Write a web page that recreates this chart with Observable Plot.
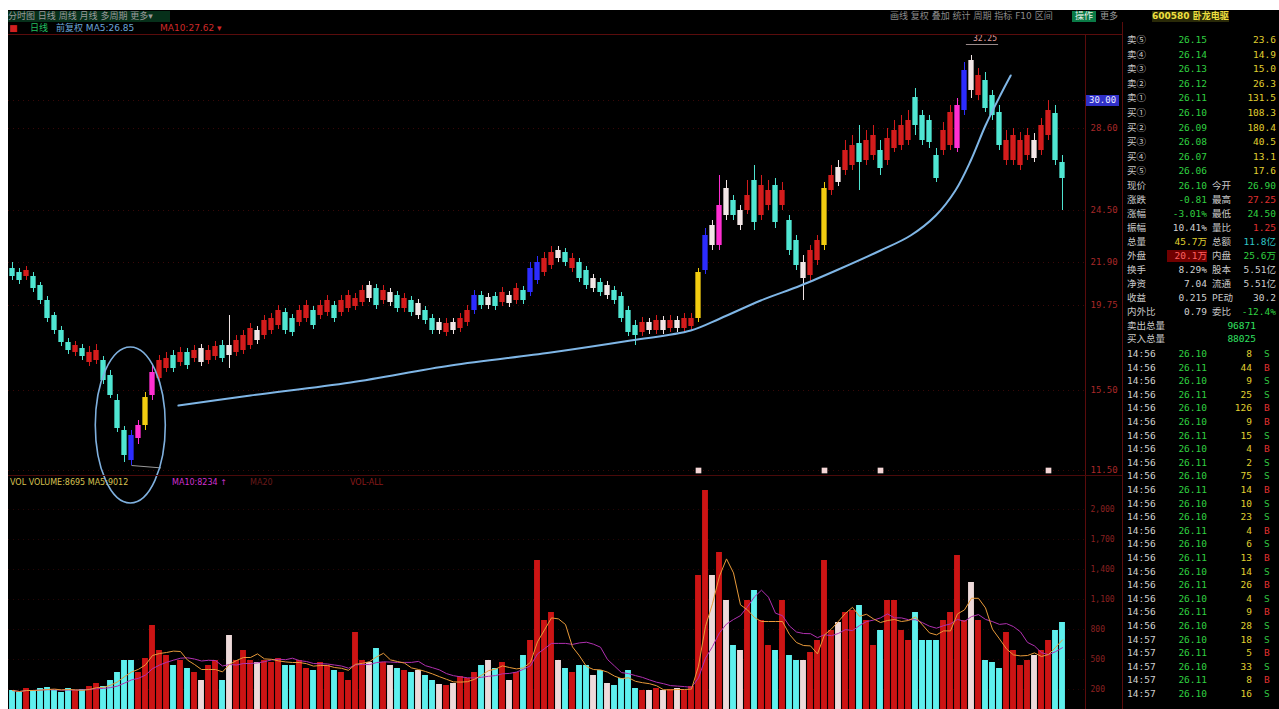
<!DOCTYPE html>
<html><head><meta charset="utf-8">
<script src="https://cdn.jsdelivr.net/npm/d3@7"></script>
<script src="https://cdn.jsdelivr.net/npm/@observablehq/plot@0.6"></script>
<style>
html,body{margin:0;padding:0;background:#fff;width:1279px;height:709px;overflow:hidden;position:relative}
#scr{position:absolute;left:8px;top:10px;width:1271px;height:699px;background:#000}
.t{position:absolute;font:9px "DejaVu Sans","Noto Sans CJK SC";white-space:nowrap;line-height:11px}
.p{position:absolute;font:9.5px "DejaVu Sans Mono","Noto Sans CJK SC";white-space:nowrap;line-height:12px}
.ln{position:absolute;background:#5a0c0c}
#price{position:absolute;left:8px;top:35px}
#vol{position:absolute;left:8px;top:488px}
</style></head>
<body>
<div id="scr"></div>
<div id="price"></div>
<div id="vol"></div>
<div id="deco"></div>
<script>
// ---------------- data ----------------
const kType = [
 "g","g","r","g","g","g","g","g","g","r",
 "g","r","r","g","g","g","g","b","m","y",
 "m","r","r","g","r","g","r","w","r","r",
 "g","w","r","r","r","w","r","r","r","g",
 "g","r","r","g","r","r","g","r","r","r",
 "r","w","g","r","w","g","r","g","w","g",
 "g","w","r","w","r","r","b","g","w","g",
 "r","w","r","g","b","b","r","r","w","g",
 "r","g","g","w","g","w","g","g","g","g",
 "r","w","r","w","r","w","r","r","y","b",
 "w","m","w","g","w","r","g","r","r","g",
 "r","g","g","w","r","r","y","r","w","r",
 "r","g","r","r","g","r","r","r","r","g",
 "g","g","g","r","r","m","b","w","r","g",
 "g","g","r","r","r","r","w","r","r","g",
 "g"];
const kOpen = [
 21.6,21.4,21.2,21.2,20.75,20.0,19.25,18.5,17.9,17.4,
 17.6,16.9,17.0,17.0,16.25,15.0,13.5,13.25,13.1,13.75,
 15.25,16.1,16.6,17.25,16.9,17.4,17.1,17.6,17.0,17.2,
 17.75,17.75,17.4,17.5,17.75,18.5,18.25,18.5,18.75,19.4,
 19.1,18.9,19.1,19.5,19.25,19.4,19.75,19.4,19.6,19.7,
 19.9,20.75,20.6,20.0,20.4,20.25,19.6,20.0,19.85,19.5,
 19.1,18.9,18.4,18.9,18.6,18.9,19.5,20.25,20.15,20.2,
 19.9,20.25,20.0,20.5,20.4,21.0,21.4,21.75,22.5,22.4,
 21.6,21.9,21.5,21.1,20.9,20.75,20.5,20.2,19.5,18.75,
 18.4,18.9,18.5,19.0,18.6,19.0,18.6,18.7,19.1,21.5,
 23.75,22.75,25.6,25.0,24.5,24.5,26.0,24.25,24.75,25.75,
 24.75,24.0,23.0,21.9,21.25,22.0,22.75,25.5,26.65,26.5,
 26.75,27.85,27.0,27.25,27.5,27.0,27.6,27.75,28.0,30.15,
 29.25,29.0,27.25,27.5,27.75,27.6,29.5,32.0,30.25,31.0,
 30.25,29.4,27.0,27.0,26.75,27.25,28.0,27.5,28.25,29.35,
 26.9];
const kClose = [
 21.2,21.0,21.5,20.6,20.0,19.1,18.5,17.9,17.5,17.75,
 17.2,17.4,17.5,16.0,15.25,13.6,12.25,12.0,13.75,15.15,
 16.4,17.0,17.1,16.6,17.4,16.75,17.5,16.9,17.5,17.7,
 17.1,17.25,18.0,18.25,18.6,18.0,19.0,19.1,19.5,18.5,
 18.4,19.5,19.75,18.75,19.75,20.0,19.1,20.0,20.25,20.1,
 20.5,20.1,19.75,20.5,19.9,19.6,20.1,19.4,19.25,19.0,
 18.5,18.5,18.85,18.5,19.1,19.5,20.25,19.75,19.75,19.7,
 20.4,19.85,20.6,20.0,21.6,21.9,22.1,22.4,22.1,21.9,
 22.1,21.1,20.75,20.6,20.4,20.25,20.0,19.1,18.4,18.25,
 18.9,18.5,19.0,18.5,19.0,18.6,19.1,19.1,21.4,23.25,
 22.75,24.75,24.25,24.25,23.75,25.25,23.9,25.75,25.5,23.9,
 25.5,22.5,21.75,21.1,22.5,23.0,25.6,26.25,25.9,27.5,
 27.75,26.9,28.0,28.25,26.6,28.1,28.5,28.75,29.0,28.75,
 28.0,27.9,26.1,28.5,29.4,29.75,31.5,30.5,31.25,29.6,
 29.25,27.75,28.0,28.25,28.0,28.25,27.1,28.75,29.5,27.0,
 26.1];
const kHigh = [
 21.9,21.6,21.7,21.4,20.9,20.2,19.4,18.7,18.1,17.95,
 17.8,17.7,17.8,17.2,16.5,15.3,13.7,13.5,14.0,15.4,
 16.75,17.25,17.4,17.5,17.65,17.6,17.75,17.8,17.75,17.95,
 18.0,19.25,18.25,18.5,18.85,18.7,19.25,19.35,19.75,19.6,
 19.3,19.75,20.0,19.7,20.0,20.25,19.95,20.25,20.5,20.35,
 20.75,20.95,20.8,20.75,20.6,20.45,20.35,20.2,20.05,19.7,
 19.3,19.1,19.1,19.1,19.35,19.75,20.5,20.45,20.35,20.4,
 20.65,20.45,20.85,20.7,21.9,22.2,22.4,22.7,22.7,22.6,
 22.35,22.1,21.7,21.3,21.1,20.95,20.7,20.4,19.7,19.0,
 19.15,19.1,19.25,19.2,19.25,19.2,19.35,19.35,21.6,23.6,
 24.0,26.25,26.0,25.25,24.75,26.0,26.75,26.25,26.0,26.1,
 25.9,24.25,23.25,22.25,22.75,23.25,25.9,26.75,27.0,28.0,
 28.25,28.75,28.5,28.75,28.0,28.6,29.0,29.25,29.5,30.6,
 29.5,29.25,27.6,28.9,29.75,30.1,31.9,32.25,31.6,31.4,
 30.5,29.75,28.5,28.6,28.4,28.6,28.35,29.1,30.0,29.75,
 27.25];
const kLow = [
 21.0,20.8,21.0,20.4,19.8,18.9,18.3,17.7,17.3,17.2,
 17.0,16.7,16.8,15.8,15.1,13.4,11.9,11.75,12.8,13.5,
 15.0,15.9,16.4,16.4,16.7,16.55,16.9,16.7,16.8,17.0,
 16.9,16.6,17.2,17.3,17.55,17.8,18.05,18.3,18.55,18.3,
 18.2,18.7,18.9,18.55,19.05,19.2,18.9,19.2,19.4,19.5,
 19.7,19.9,19.55,19.8,19.7,19.4,19.4,19.2,19.05,18.8,
 18.3,18.3,18.2,18.3,18.4,18.7,19.3,19.55,19.55,19.5,
 19.7,19.65,19.8,19.8,20.2,20.8,21.2,21.55,21.9,21.7,
 21.4,20.9,20.55,20.4,20.2,20.05,19.8,18.9,18.2,17.75,
 18.2,18.3,18.3,18.3,18.4,18.4,18.4,18.5,18.9,21.3,
 22.5,22.5,24.0,24.0,23.5,24.3,23.5,24.0,24.5,23.6,
 24.5,22.25,21.5,20.0,20.9,21.75,22.5,25.25,25.7,26.25,
 26.5,25.5,26.75,27.0,26.25,26.75,27.4,27.5,27.75,28.25,
 27.75,27.6,25.9,27.25,27.5,27.4,29.25,30.1,30.0,29.4,
 29.0,27.5,26.75,26.75,26.5,27.0,26.9,27.25,28.0,26.75,
 24.5];
const volume = [
 190,170,210,190,210,220,190,170,210,190,
 200,230,260,230,290,370,490,490,370,510,
 840,590,540,440,490,410,370,290,440,490,
 290,740,490,590,490,470,490,470,510,440,
 440,490,410,390,470,440,390,370,290,770,
 490,470,610,470,440,410,390,370,390,340,
 290,250,240,260,330,310,370,440,490,410,
 470,290,370,540,690,1490,890,970,490,410,
 370,440,440,340,390,260,240,310,390,210,
 190,190,210,190,200,210,190,230,1340,2190,
 1340,1570,1090,640,590,1090,1190,890,640,590,
 1090,540,490,490,570,690,1490,790,870,970,
 990,1040,890,640,790,1090,1090,790,690,970,
 690,690,690,890,970,1540,890,1270,890,490,
 470,410,770,590,440,490,540,590,690,790,
 870];
// hand-drawn blue support curve (bar index, price)
const curveIdx   = [23.7,34,48.3,62.6,76.9,88.3,96.9,101.1,106.9,112.6,118.3,124,128.3,131.9,134.7,136.9,139,141.1,142.6];
const curvePrice = [14.75,15.25,15.9,16.75,17.4,18.0,18.5,19.1,20.0,20.75,21.6,22.5,23.25,24.25,25.5,27.0,28.75,30.25,31.25];
// circled bottom (centre index/price, half-width in bars, half-height in price)
const ovalCentre = [16.9, 13.75];
const ovalHalf   = [5.0, 3.9];
// signal markers under candles
const signalIdx = [98, 116, 124, 148];
const priceTicks = [11.5, 15.5, 19.75, 21.9, 24.5, 28.6, 30.0];
const volTicks = [200, 500, 800, 1100, 1400, 1700, 2000];

// ---------------- build ----------------
const colorOf = {r:"#d41c1c", g:"#4fe6d2", w:"#f2e6e6", y:"#f2cc10", b:"#2c2cff", m:"#ff2fd2"};
const bars = kType.map((t,i)=>({i, t, open:kOpen[i], close:kClose[i], high:kHigh[i], low:kLow[i], vol:volume[i],
  col: colorOf[t],
  vcol: t==="w" ? "#eedada" : (kClose[i] >= kOpen[i] ? "#cc1414" : "#5ef0ee")}));
const curve = curveIdx.map((x,k)=>({x, y:curvePrice[k]}));
const xDom = [-0.571, 153.286];
const hiBar = bars[137], loBar = bars[17];

const price = Plot.plot({
  width: 1112, height: 440, marginLeft: 0, marginRight: 35, marginTop: 0, marginBottom: 0,
  style: {background: "transparent", color: "#a82828", fontSize: "9px", fontFamily: "DejaVu Sans Mono", overflow: "visible"},
  x: {domain: xDom, axis: null},
  y: {domain: [11.25, 33.25], axis: "right", ticks: priceTicks, tickSize: 0, tickPadding: 5, tickFormat: d3.format(".2f"), label: null},
  color: {type: "identity"},
  marks: [
    Plot.ruleY(priceTicks, {stroke: "#3a0808", strokeDasharray: "1,4"}),
    Plot.ruleX(bars, {x: "i", y1: "low", y2: "high", stroke: "col", strokeWidth: 1}),
    Plot.rect(bars, {x1: d=>d.i-0.38, x2: d=>d.i+0.38, y1: "open", y2: d=> Math.abs(d.close-d.open)<0.1 ? d.open+0.1 : d.close, fill: "col"}),
    Plot.line(curve, {x: "x", y: "y", stroke: "#7fb6e6", strokeWidth: 2, curve: "catmull-rom"}),
    Plot.dot(signalIdx, {x: d=>d, y: 11.5, symbol: "square", r: 3.2, fill: "#f4d6d6"}),
    Plot.link([hiBar], {x1: d=>d.i-0.8, x2: d=>d.i+3.8, y1: d=>d.high+0.55, y2: d=>d.high+0.55, stroke: "#9a8a8a", strokeWidth: 1}),
    Plot.text([hiBar], {x: d=>d.i+0.2, y: d=>d.high+0.85, text: d=>d.high.toFixed(2), textAnchor: "start", fill: "#e0a0a0", fontSize: 8}),
    Plot.link([loBar], {x1: "i", x2: d=>d.i+4.2, y1: "low", y2: d=>d.low-0.12, stroke: "#9a9a9a", strokeWidth: 1}),
  ]
});
document.getElementById("price").append(price);
// circled bottom drawn through the plot's own scales
{
  const sx = price.scale("x"), sy = price.scale("y");
  const cx = sx.apply(ovalCentre[0]), cy = sy.apply(ovalCentre[1]);
  const rx = Math.abs(sx.apply(ovalCentre[0]+ovalHalf[0]) - cx);
  const ry = Math.abs(sy.apply(ovalCentre[1]+ovalHalf[1]) - cy);
  d3.select(price).append("ellipse").attr("cx", cx).attr("cy", cy).attr("rx", rx).attr("ry", ry)
    .attr("fill", "none").attr("stroke", "#7fb0de").attr("stroke-width", 1.6);
}

const vol = Plot.plot({
  width: 1112, height: 221, marginLeft: 0, marginRight: 35, marginTop: 0, marginBottom: 0,
  style: {background: "transparent", color: "#8a2020", fontSize: "8px", fontFamily: "DejaVu Sans Mono", overflow: "visible"},
  x: {domain: xDom, axis: null},
  y: {domain: [0, 2210], axis: "right", ticks: volTicks, tickSize: 0, tickPadding: 5, label: null},
  color: {type: "identity"},
  marks: [
    Plot.ruleY(volTicks, {stroke: "#2a0606", strokeDasharray: "1,4"}),
    Plot.rectY(bars, {x1: d=>d.i-0.42, x2: d=>d.i+0.42, y: "vol", fill: "vcol"}),
    Plot.lineY(bars, Plot.windowY({k: 10, anchor: "end", reduce: "mean"}, {x: "i", y: "vol", stroke: "#b030b0", strokeWidth: 1})),
    Plot.lineY(bars, Plot.windowY({k: 5, anchor: "end", reduce: "mean"}, {x: "i", y: "vol", stroke: "#e89a3a", strokeWidth: 1}))
  ]
});
document.getElementById("vol").append(vol);

// ---------------- surrounding software chrome ----------------
const deco = document.getElementById("deco");
function add(cls, x, y, txt, color, extra) {
  const e = document.createElement("div"); e.className = cls; e.style.left = x+"px"; e.style.top = y+"px";
  e.textContent = txt; e.style.color = color; if (extra) Object.assign(e.style, extra); deco.append(e); return e;
}
// right-aligned text ending at x
function addR(cls, xr, y, txt, color, extra) {
  const e = add(cls, xr-60, y, txt, color, extra); e.style.width = "60px"; e.style.textAlign = "right"; return e;
}
function line(x, y, w, h, c) { const e = document.createElement("div"); e.className = "ln";
  Object.assign(e.style, {left:x+"px", top:y+"px", width:w+"px", height:h+"px"}); if (c) e.style.background = c; deco.append(e); }

line(8, 34, 1114, 1); line(1085, 34, 1, 675); line(1122, 22, 1, 687); line(8, 475, 1114, 1, "#4a0a0a");
// header row 1
add("t", 8, 11, "分时图  日线  周线  月线  多周期  更多▾", "#9a9a9a", {background:"#06301a", width:"162px"});
add("t", 890, 11, "画线  复权  叠加  统计  周期  指标  F10  区间", "#8a8a8a");
add("t", 1072, 11, "操作", "#e8f0e8", {background:"#0a7a46", padding:"0 3px"});
add("t", 1100, 11, "更多", "#9a9a9a");
add("t", 1152, 11, " 600580 卧龙电驱 ", "#f0e040", {background:"#2a2a08", fontWeight:"bold"});
// header row 2
add("t", 9, 23, "■", "#d02020");
add("t", 30, 23, "日线", "#20c060");
add("t", 56, 23, "前复权 MA5:26.85", "#6aa6d8");
add("t", 160, 23, "MA10:27.62 ▾", "#d02828");
// indicator label row
add("t", 10, 477, "VOL  VOLUME:8695  MA5:9012", "#d6c050", {fontSize:"8px"});
add("t", 172, 477, "MA10:8234 ↑", "#d030d0", {fontSize:"8px"});
add("t", 250, 477, "MA20", "#6a1a1a", {fontSize:"8px"});
add("t", 350, 477, "VOL-ALL", "#8a1a1a", {fontSize:"8px"});
// price highlight on axis
add("p", 1086, 95, "30.00", "#e8e8ff", {background:"#3030c8", fontSize:"9px", padding:"0 3px", lineHeight:"11px"});

// right info panel
const bookLab = ["卖⑤","卖④","卖③","卖②","卖①","买①","买②","买③","买④","买⑤"];
const bookPx  = ["26.15","26.14","26.13","26.12","26.11","26.10","26.09","26.08","26.07","26.06"];
const bookVol = ["23.6","14.9","15.0","26.3","131.5","108.3","180.4","40.5","13.1","17.6"];
bookLab.forEach((l,k)=>{ const y = 34 + k*14.6;
  add("p", 1127, y, l, "#c8c8c8");
  addR("p", 1207, y, bookPx[k], "#30d040");
  addR("p", 1276, y, bookVol[k], "#e0d030");
});
const stats = [
 ["现价","26.10","#30d040","今开","26.90","#30d040"],
 ["涨跌","-0.81","#30d040","最高","27.25","#e03030"],
 ["涨幅","-3.01%","#30d040","最低","24.50","#30d040"],
 ["振幅","10.41%","#d0d0d0","量比","1.25","#e03030"],
 ["总量","45.7万","#e0d030","总额","11.8亿","#30c8c8"],
 ["外盘","20.1万","#ff6060","内盘","25.6万","#30d040"],
 ["换手","8.29%","#d0d0d0","股本","5.51亿","#d0d0d0"],
 ["净资","7.04","#d0d0d0","流通","5.51亿","#d0d0d0"],
 ["收益","0.215","#d0d0d0","PE动","30.2","#d0d0d0"],
 ["内外比","0.79","#d0d0d0","委比","-12.4%","#30d040"]];
stats.forEach((r,k)=>{ const y = 180 + k*14.0;
  add("p", 1127, y, r[0], "#c8c8c8");
  addR("p", 1207, y, r[1], r[2], k===5 ? {background:"linear-gradient(to left,#700000 40px,transparent 40px)"} : null);
  add("p", 1212, y, r[3], "#c8c8c8");
  addR("p", 1276, y, r[4], r[5]);
});
add("p", 1127, 320, "卖出总量", "#c8c8c8"); addR("p", 1256, 320, "96871", "#30e060");
add("p", 1127, 333, "买入总量", "#c8c8c8"); addR("p", 1256, 333, "88025", "#30e060");
const tickTime = ["14:56","14:56","14:56","14:56","14:56","14:56","14:56","14:56","14:56","14:56","14:56","14:56","14:56",
                  "14:56","14:56","14:56","14:56","14:56","14:56","14:56","14:56","14:57","14:57","14:57","14:57","14:57"];
const tickPx = ["26.10","26.11","26.10","26.11","26.10","26.10","26.11","26.10","26.11","26.10","26.11","26.10","26.10",
                "26.11","26.10","26.11","26.10","26.11","26.10","26.11","26.10","26.10","26.11","26.10","26.11","26.10"];
const tickVol = ["8","44","9","25","126","9","15","4","2","75","14","10","23","4","6","13","14","26","4","9","28","18","5","33","8","16"];
const tickSide = ["S","B","S","S","B","B","S","B","S","S","B","S","S","B","S","B","S","B","S","B","S","S","B","S","B","S"];
tickTime.forEach((t,k)=>{ const y = 348 + k*13.6;
  add("p", 1127, y, t, "#d0d0d0");
  addR("p", 1207, y, tickPx[k], "#30d040");
  addR("p", 1252, y, tickVol[k], "#e0d030");
  add("p", 1264, y, tickSide[k], tickSide[k]==="B" ? "#e03030" : "#30c040");
});
</script>
</body></html>
